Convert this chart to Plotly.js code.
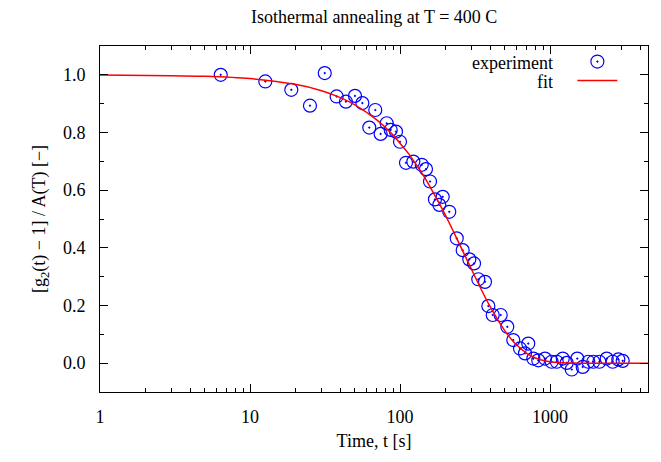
<!DOCTYPE html>
<html>
<head>
<meta charset="utf-8">
<script src="https://cdn.plot.ly/plotly-3.0.1.min.js"></script>
<style>html,body{margin:0;padding:0;background:#fff;}#chart{width:661px;height:462px;}</style>
</head>
<body>
<div id="chart"></div>
<script>
// Experimental points: time [s] and normalized correlation
const expTime = [6.38, 12.65, 18.85, 25.1, 31.5, 37.8, 43.6, 50.1, 56.1, 62.4, 68.4, 74.3, 81.5, 86.7, 94, 100,
  109.6, 122.7, 139.6, 149, 158.5, 171, 182.8, 192.6, 213, 238.8, 261.7, 289.8, 311.5, 332.6, 368.7, 388,
  415, 469, 519, 569, 631, 681, 716, 774, 835, 926, 1026, 1109, 1216, 1292, 1396, 1520, 1652, 1800,
  1944, 2132, 2387, 2618, 2853, 3052];
const expValue = [1.000, 0.977, 0.948, 0.893, 1.006, 0.925, 0.907, 0.927, 0.902, 0.817, 0.878, 0.795, 0.832, 0.809, 0.803, 0.768,
  0.695, 0.699, 0.688, 0.673, 0.630, 0.568, 0.549, 0.577, 0.525, 0.433, 0.392, 0.360, 0.346, 0.291, 0.282, 0.198,
  0.167, 0.167, 0.126, 0.080, 0.051, 0.034, 0.068, 0.016, 0.010, 0.016, 0.005, 0.005, 0.016, 0.001, -0.022, 0.016, -0.013, 0.005,
  0.005, 0.005, 0.016, 0.005, 0.013, 0.008];

// Fit curve
const fitTime = [1, 3, 5, 10, 20, 30, 40, 50, 70, 85, 100, 115, 130, 145, 160, 180, 200, 225, 250, 275, 300, 350,
  400, 450, 500, 550, 600, 700, 800, 850, 1000, 1150, 1300, 1600, 2000, 3000, 5000];
const fitValue = [0.999, 0.997, 0.995, 0.987, 0.967, 0.945, 0.921, 0.896, 0.844, 0.804, 0.763, 0.724, 0.684, 0.646, 0.608, 0.560, 0.515, 0.461, 0.411, 0.366, 0.325, 0.253,
  0.195, 0.149, 0.112, 0.084, 0.063, 0.034, 0.018, 0.013, 0.005, 0.002, 0.001, 0.000, 0.000, 0.000, 0.000];

const xTickVals = [1, 10, 100, 1000];
const xTickText = ['1', '10', '100', '1000'];
const yTickVals = [0, 0.2, 0.4, 0.6, 0.8, 1.0];
const yTickText = ['0.0', '0.2', '0.4', '0.6', '0.8', '1.0'];

const FONT = 'Liberation Serif, Times New Roman, serif';

const traces = [
  {x: expTime, y: expValue, type: 'scatter', mode: 'markers', name: ' ',
   marker: {symbol: 'circle-open-dot', size: 13, color: '#0000ff', line: {width: 1.2, color: '#0000ff'}}},
  {x: fitTime, y: fitValue, type: 'scatter', mode: 'lines', name: ' ',
   line: {color: '#ff0000', width: 1.5, shape: 'spline', smoothing: 0.6}}
];

const axisCommon = {
  showline: true, linecolor: '#000', linewidth: 1, mirror: 'allticks',
  ticks: 'inside', ticklen: 8, tickcolor: '#000', tickwidth: 1,
  showgrid: false, zeroline: false,
  tickfont: {family: FONT, size: 18, color: '#000'}
};

const layout = {
  width: 661, height: 462,
  margin: {l: 100, r: 13, t: 46, b: 70},
  paper_bgcolor: '#fff', plot_bgcolor: '#fff',
  font: {family: FONT, size: 18, color: '#000'},
  title: {text: 'Isothermal annealing at T = 400 C', font: {family: FONT, size: 18, color: '#000'},
          x: 0.566, xanchor: 'center', y: 0.963, yanchor: 'middle'},
  xaxis: Object.assign({}, axisCommon, {
    type: 'log', range: [0, Math.log10(4500)],
    tickvals: xTickVals, ticktext: xTickText, ticklabelstandoff: 8,
    minor: {ticks: 'inside', ticklen: 4, tickcolor: '#000', dtick: 'D1', showgrid: false},
    title: {text: 'Time, t [s]', font: {family: FONT, size: 18, color: '#000'}, standoff: 8}
  }),
  yaxis: Object.assign({}, axisCommon, {
    range: [-0.1, 1.1],
    tickvals: yTickVals, ticktext: yTickText, ticklabelstandoff: 10,
    minor: {ticks: 'inside', ticklen: 4, tickcolor: '#000', dtick: 0.1, showgrid: false},
    title: {text: '[g<sub>2</sub>(t) − 1] / A(T) [−]', font: {family: FONT, size: 18, color: '#000'}, standoff: 12}
  }),
  showlegend: true,
  legend: {x: 0.862, xanchor: 'left', y: 0.997, yanchor: 'top', bgcolor: 'rgba(0,0,0,0)',
           font: {family: FONT, size: 12}, itemwidth: 40, tracegroupgap: 0},
  annotations: [
    {text: 'experiment', xref: 'paper', yref: 'paper', x: 0.830, y: 0.952, xanchor: 'right', yanchor: 'middle',
     showarrow: false, font: {family: FONT, size: 18, color: '#000'}},
    {text: 'fit', xref: 'paper', yref: 'paper', x: 0.830, y: 0.895, xanchor: 'right', yanchor: 'middle',
     showarrow: false, font: {family: FONT, size: 18, color: '#000'}}
  ]
};

Plotly.newPlot('chart', traces, layout, {displayModeBar: false, staticPlot: true});
</script>
</body>
</html>
